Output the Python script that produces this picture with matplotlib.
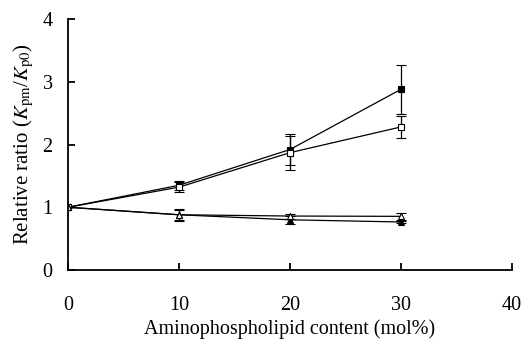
import matplotlib
matplotlib.use("Agg")
import matplotlib.pyplot as plt

plt.rcParams['font.family'] = ['Liberation Serif', 'DejaVu Serif']
plt.rcParams['mathtext.fontset'] = 'stix'

# 含量 (mol%)
content = [0, 10, 20, 30]

# 各系列の値と誤差
filled_sq = [1.0, 1.35, 1.92, 2.88]
filled_sq_err = [0.0, 0.07, 0.25, 0.39]
open_sq = [1.0, 1.32, 1.87, 2.28]
open_sq_err = [0.0, 0.08, 0.27, 0.17]
filled_tri = [1.0, 0.88, 0.80, 0.765]
filled_tri_err = [0.0, 0.10, 0.06, 0.02]
open_tri = [1.0, 0.88, 0.86, 0.855]
open_tri_err = [0.0, 0.08, 0.04, 0.06]

xticks = [0, 10, 20, 30, 40]
yticks = [0, 1, 2, 3, 4]

fig = plt.figure(figsize=(5.31, 3.47), dpi=100)
ax = fig.add_axes([68 / 531, 1 - 270 / 347, 444 / 531, 251 / 347])

series = [
    (filled_sq, filled_sq_err, 's', 'black'),
    (open_sq, open_sq_err, 's', 'white'),
    (filled_tri, filled_tri_err, '^', 'black'),
    (open_tri, open_tri_err, '^', 'white'),
]
for y, err, mk, fc in series:
    ax.errorbar(content, y, yerr=err, color='black', lw=0.9, marker=mk,
                ms=4.5, mfc=fc, mec='black', mew=0.8, capsize=3.5,
                elinewidth=0.9, capthick=0.9)

ax.set_xlim(0, 40)
ax.set_ylim(0, 4)
ax.set_xticks(xticks)
ax.set_yticks(yticks)
ax.spines['top'].set_visible(False)
ax.spines['right'].set_visible(False)
ax.spines['left'].set_linewidth(1.3)
ax.spines['bottom'].set_linewidth(1.3)
ax.tick_params(axis='x', direction='in', length=5, width=1.3, pad=19, labelsize=14.5)
ax.tick_params(axis='y', direction='in', length=5, width=1.3, pad=11, labelsize=14.5)

ax.set_xlabel('Aminophospholipid content (mol%)', fontsize=14.5, labelpad=3)
ax.set_ylabel(r'Relative ratio ($K_{\rm pm}$/$K_{\rm p0}$)', fontsize=15, labelpad=5)

fig.savefig('out.png', dpi=100)
